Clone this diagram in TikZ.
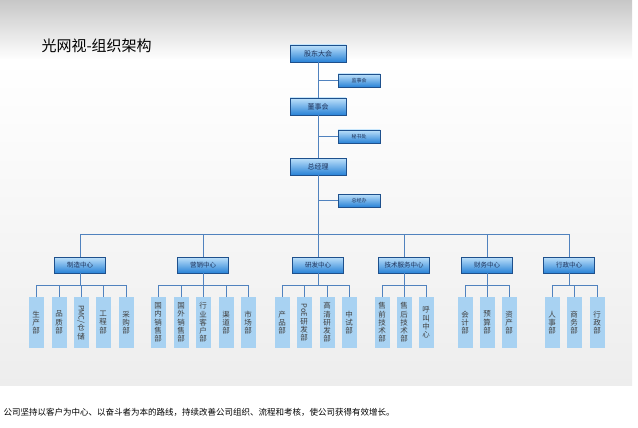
\documentclass[tikz,border=0pt]{standalone}
\usepackage{fontspec}
\setmainfont{Noto Sans CJK SC}
\usepackage{graphicx}
\definecolor{bTop}{RGB}{190,225,250}
\definecolor{bBot}{RGB}{40,130,215}
\definecolor{bBrd}{RGB}{30,80,140}
\definecolor{lf}{RGB}{168,210,242}
\definecolor{lnc}{RGB}{80,130,190}
\definecolor{tx}{RGB}{30,50,90}
\begin{document}
\begin{tikzpicture}[x=1pt,y=-1pt,
 topbox/.style={draw=bBrd,line width=0.6pt,top color=bTop,bottom color=bBot,text=tx,font=\fontsize{7}{8}\selectfont,minimum width=56pt,minimum height=17pt,inner sep=0pt},
 sidebox/.style={topbox,minimum width=42pt,minimum height=13pt,font=\fontsize{5}{6}\selectfont},
 midbox/.style={topbox,minimum width=51pt,minimum height=16pt,font=\fontsize{6.5}{7}\selectfont},
 leaf/.style={fill=lf,text=black!75,font=\fontsize{7.5}{8.3}\selectfont,minimum width=15pt,minimum height=51pt,inner sep=0pt,align=center},
 ln/.style={draw=lnc,line width=1pt}]
\useasboundingbox (0,0) rectangle (638,428);
\fill[white] (0,0) rectangle (638,428);
\shade[top color=black!22,bottom color=white] (0,0) rectangle (632,60);
\shade[top color=white,bottom color=black!7] (0,60) rectangle (632,385);
\node[anchor=west,font=\fontsize{15}{16}\selectfont] (title) at (38,46) {光网视-组织架构};
\node[topbox] (gd) at (318,53.5) {股东大会};
\node[sidebox] (js) at (359,80.5) {监事会};
\node[topbox] (ds) at (318,106.5) {董事会};
\node[sidebox] (ms) at (359,136.5) {秘书处};
\node[topbox] (zj) at (318,166.5) {总经理};
\node[sidebox] (zb) at (359,200.5) {总经办};
\coordinate (bus) at (318,234);
\draw[ln] (gd) -- (ds) -- (zj) -- (bus);
\draw[ln] (js.west) -- (318,80.5);
\draw[ln] (ms.west) -- (318,136.5);
\draw[ln] (zb.west) -- (318,200.5);
\draw[ln] (80,234) -- (569,234);
\foreach \n/\x/\t in {zz/80/制造中心,yx/203/营销中心,yf/318/研发中心,js2/404/技术服务中心,cw/487/财务中心,xz/569/行政中心}{
  \node[midbox] (\n) at (\x,265) {\t};
  \draw[ln] (\x,234) -- (\n.north);
  \draw[ln] (\n.south) -- (\x,285);
}
\foreach \p/\x/\t in {zz/36/生\\产\\部, zz/59/品\\质\\部, zz/81/\rotatebox{-90}{PMC/}\\仓\\储, zz/103/工\\程\\部, zz/126/采\\购\\部,
 yx/158/国\\内\\销\\售\\部, yx/181/国\\外\\销\\售\\部, yx/203/行\\业\\客\\户\\部, yx/226/渠\\道\\部, yx/248/市\\场\\部,
 yf/282/产\\品\\部, yf/304/\rotatebox{-90}{PoE}\\研\\发\\部, yf/327/高\\清\\研\\发\\部, yf/349/中\\试\\部,
 js2/382/售\\前\\技\\术\\部, js2/404/售\\后\\技\\术\\部, js2/426/呼\\叫\\中\\心,
 cw/465/会\\计\\部, cw/487/预\\算\\部, cw/509/资\\产\\部,
 xz/552/人\\事\\部, xz/574/商\\务\\部, xz/597/行\\政\\部}{
  \node[leaf] (l\x) at (\x,322.5) {\t};
  \draw[ln] (\x,285) -- (l\x.north);
}
\draw[ln] (36,285) -- (126,285);
\draw[ln] (158,285) -- (248,285);
\draw[ln] (282,285) -- (349,285);
\draw[ln] (382,285) -- (426,285);
\draw[ln] (465,285) -- (509,285);
\draw[ln] (552,285) -- (597,285);
\node[anchor=west,font=\fontsize{8.5}{10}\selectfont] (cap) at (0,412) {公司坚持以客户为中心、以奋斗者为本的路线，持续改善公司组织、流程和考核，使公司获得有效增长。};
\end{tikzpicture}
\end{document}
